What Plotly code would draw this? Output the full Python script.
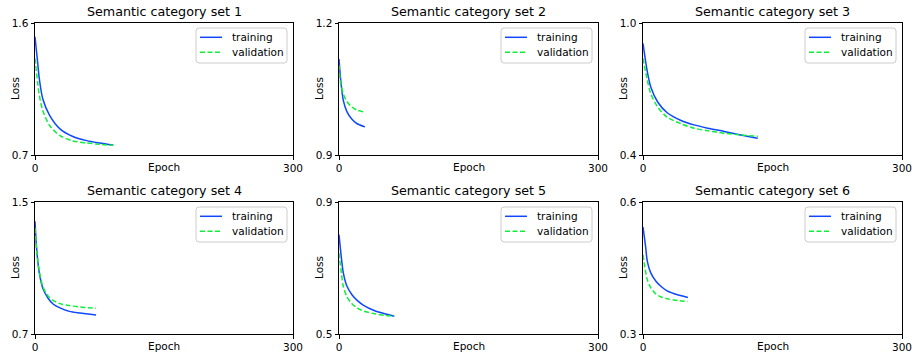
import plotly.graph_objects as go

W, H = 915, 358

titles = ["Semantic category set 1", "Semantic category set 2", "Semantic category set 3",
          "Semantic category set 4", "Semantic category set 5", "Semantic category set 6"]
series_names = ["training", "validation"]

# epochs and losses
epochs_1 = [0, 3, 5, 9, 17, 29, 44, 60, 75, 91]
train_1 = [1.506, 1.335, 1.221, 1.084, 0.970, 0.878, 0.826, 0.798, 0.782, 0.768]
val_1 = [1.358, 1.198, 1.107, 1.004, 0.901, 0.832, 0.796, 0.782, 0.773, 0.766]

epochs_2 = [0, 2, 5, 9, 15, 21, 30]
train_2 = [1.118, 1.070, 1.024, 0.999, 0.981, 0.971, 0.964]
val_2 = [1.104, 1.062, 1.039, 1.022, 1.009, 1.002, 0.997]

epochs_3 = [0, 5, 9, 17, 28, 44, 59, 75, 94, 113, 133]
train_3 = [0.907, 0.778, 0.709, 0.641, 0.592, 0.557, 0.537, 0.522, 0.507, 0.491, 0.476]
val_3 = [0.839, 0.740, 0.679, 0.618, 0.572, 0.542, 0.522, 0.510, 0.499, 0.491, 0.485]

epochs_4 = [0, 2, 5, 9, 15, 21, 29, 40, 52, 71]
train_4 = [1.383, 1.211, 1.070, 0.979, 0.918, 0.882, 0.858, 0.837, 0.827, 0.815]
val_4 = [1.342, 1.201, 1.080, 0.989, 0.932, 0.904, 0.884, 0.872, 0.864, 0.856]

epochs_5 = [0, 3, 5, 9, 15, 21, 29, 40, 52, 64]
train_5 = [0.801, 0.725, 0.685, 0.646, 0.619, 0.602, 0.586, 0.572, 0.562, 0.554]
val_5 = [0.745, 0.680, 0.644, 0.614, 0.592, 0.579, 0.569, 0.562, 0.557, 0.554]

epochs_6 = [0, 3, 5, 9, 15, 21, 28, 40, 52]
train_6 = [0.543, 0.499, 0.465, 0.439, 0.420, 0.408, 0.398, 0.389, 0.383]
val_6 = [0.480, 0.442, 0.423, 0.405, 0.391, 0.384, 0.380, 0.376, 0.374]

y_ranges = [[0.7, 1.6], [0.9, 1.2], [0.4, 1.0], [0.7, 1.5], [0.5, 0.9], [0.3, 0.6]]
y_ticklabels = [["0.7", "1.6"], ["0.9", "1.2"], ["0.4", "1.0"],
                ["0.7", "1.5"], ["0.5", "0.9"], ["0.3", "0.6"]]
x_range = [0, 300]
x_ticks = [0, 300]

epochs = [epochs_1, epochs_2, epochs_3, epochs_4, epochs_5, epochs_6]
trains = [train_1, train_2, train_3, train_4, train_5, train_6]
vals = [val_1, val_2, val_3, val_4, val_5, val_6]

FONT = "DejaVu Sans"
BLUE = "#0d47ff"
GREEN = "#11ee3a"
DASH = "5px,2.5px"

# pixel geometry
col_px = [(35, 293), (339, 598), (643, 902)]
row_px = [(23, 155), (202, 334)]
legend_right_px = [287, 592, 896]
legend_top_px = [28, 207]
LEG_W, LEG_H, LEG_R = 91, 35, 3


def px(x):
    return x / W


def py(y):
    return 1 - y / H


def rounded_rect_path(x0, y0, x1, y1, r):
    rx, ry = r / W, r / H
    X0, X1 = px(x0), px(x1)
    Y0, Y1 = py(y0), py(y1)  # Y0 top, Y1 bottom
    return (f"M {X0 + rx} {Y0} L {X1 - rx} {Y0} Q {X1} {Y0} {X1} {Y0 - ry} "
            f"L {X1} {Y1 + ry} Q {X1} {Y1} {X1 - rx} {Y1} "
            f"L {X0 + rx} {Y1} Q {X0} {Y1} {X0} {Y1 + ry} "
            f"L {X0} {Y0 - ry} Q {X0} {Y0} {X0 + rx} {Y0} Z")


fig = go.Figure()
layout = dict(
    width=W, height=H,
    margin=dict(l=0, r=0, t=0, b=0, autoexpand=False),
    paper_bgcolor="white", plot_bgcolor="white",
    font=dict(family=FONT, size=10.5, color="black"),
    showlegend=False,
)
annotations = []
shapes = []

for i in range(6):
    r, c = divmod(i, 3)
    n = i + 1
    xa = "x" if n == 1 else f"x{n}"
    ya = "y" if n == 1 else f"y{n}"
    x0, x1 = col_px[c]
    y0, y1 = row_px[r]
    fig.add_trace(go.Scatter(x=epochs[i], y=trains[i], mode="lines", name=series_names[0],
                             line=dict(color=BLUE, width=1.5, shape="spline", smoothing=0.8),
                             xaxis=xa, yaxis=ya))
    fig.add_trace(go.Scatter(x=epochs[i], y=vals[i], mode="lines", name=series_names[1],
                             line=dict(color=GREEN, width=1.5, dash=DASH,
                                       shape="spline", smoothing=0.8),
                             xaxis=xa, yaxis=ya))
    axkey_x = "xaxis" if n == 1 else f"xaxis{n}"
    axkey_y = "yaxis" if n == 1 else f"yaxis{n}"
    layout[axkey_x] = dict(domain=[px(x0), px(x1)], anchor=ya, range=x_range,
                           tickvals=x_ticks, ticktext=[str(t) for t in x_ticks],
                           ticks="outside", ticklen=3.5, tickcolor="black",
                           showline=True, linecolor="black", linewidth=1, mirror=True,
                           showgrid=False, zeroline=False, automargin=False,
                           tickfont=dict(family=FONT, size=10.5))
    layout[axkey_y] = dict(domain=[py(y1), py(y0)], anchor=xa, range=y_ranges[i],
                           tickvals=[float(v) for v in y_ticklabels[i]], ticktext=y_ticklabels[i],
                           ticks="outside", ticklen=3.5, tickcolor="black",
                           showline=True, linecolor="black", linewidth=1, mirror=True,
                           showgrid=False, zeroline=False, automargin=False,
                           tickfont=dict(family=FONT, size=10.5))
    # legend box (matplotlib style)
    lr = legend_right_px[c]
    ll = lr - LEG_W
    lt = legend_top_px[r]
    shapes.append(dict(type="path", xref="paper", yref="paper",
                       path=rounded_rect_path(ll, lt, lr, lt + LEG_H, LEG_R),
                       fillcolor="rgba(255,255,255,0.8)",
                       line=dict(color="#cccccc", width=1), layer="above"))
    for k, (nm, col, dash) in enumerate([(series_names[0], BLUE, "solid"),
                                         (series_names[1], GREEN, DASH)]):
        yy = lt + 9.3 + 15 * k
        shapes.append(dict(type="line", xref="paper", yref="paper",
                           x0=px(ll + 4), x1=px(ll + 26), y0=py(yy), y1=py(yy),
                           line=dict(color=col, width=1.5, dash=dash), layer="above"))
        annotations.append(dict(text=nm, x=px(ll + 34), y=py(yy), xref="paper", yref="paper",
                                showarrow=False, xanchor="left", yanchor="middle",
                                font=dict(family=FONT, size=10.5, color="black")))
    # title
    annotations.append(dict(text=titles[i], x=px((x0 + x1) / 2), y=py(y0 - 11.5),
                            xref="paper", yref="paper", showarrow=False,
                            xanchor="center", yanchor="middle",
                            font=dict(family=FONT, size=12.7, color="black")))
    # x label
    annotations.append(dict(text="Epoch", x=px((x0 + x1) / 2), y=py(y1 + 12),
                            xref="paper", yref="paper", showarrow=False,
                            xanchor="center", yanchor="middle",
                            font=dict(family=FONT, size=10.5, color="black")))
    # y label
    annotations.append(dict(text="Loss", x=px(x0 - 20), y=py((y0 + y1) / 2),
                            xref="paper", yref="paper", showarrow=False, textangle=-90,
                            xanchor="center", yanchor="middle",
                            font=dict(family=FONT, size=10.5, color="black")))

layout["annotations"] = annotations
layout["shapes"] = shapes
fig.update_layout(**layout)
fig.write_html("out.html", config={"displayModeBar": False},
               post_script="document.body.style.margin='0';document.body.style.padding='0';")
